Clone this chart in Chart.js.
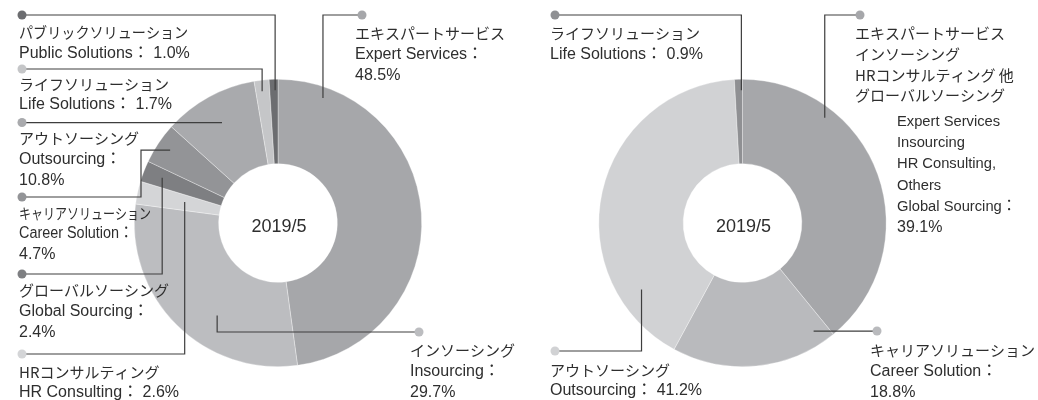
<!DOCTYPE html>
<html>
<head>
<meta charset="utf-8">
<script src="https://cdn.jsdelivr.net/npm/chart.js@4.4.0/dist/chart.umd.min.js"></script>
<style>
  html, body { margin: 0; padding: 0; background: #fff; }
  #wrap { position: relative; width: 1038px; height: 400px; }
  .layer { position: absolute; left: 0; top: 0; width: 1038px; height: 400px; }
</style>
</head>
<body>
<div id="wrap">
  <div class="layer"><canvas id="leftChart"></canvas></div>
  <div class="layer"><canvas id="rightChart"></canvas></div>
</div>
<script>
// ---- data ----
const centerLabel = '2019/5';

const leftJa = ['エキスパートサービス', 'インソーシング', 'HRコンサルティング', 'グローバルソーシング',
  'キャリアソリューション', 'アウトソーシング', 'ライフソリューション', 'パブリックソリューション'];
const leftEn = ['Expert Services', 'Insourcing', 'HR Consulting', 'Global Sourcing',
  'Career Solution', 'Outsourcing', 'Life Solutions', 'Public Solutions'];
const leftValues = [48.5, 29.7, 2.6, 2.4, 4.7, 10.8, 1.7, 1.0];
const leftColors = ['#a6a7aa', '#bcbdc0', '#d4d5d7', '#7e7f82', '#939497', '#a9aaad', '#c5c6c8', '#6c6d70'];

const rightJa = ['エキスパートサービス\nインソーシング\nHRコンサルティング 他\nグローバルソーシング',
  'キャリアソリューション', 'アウトソーシング', 'ライフソリューション'];
const rightEn = ['Expert Services\nInsourcing\nHR Consulting,\nOthers\nGlobal Sourcing',
  'Career Solution', 'Outsourcing', 'Life Solutions'];
const rightValues = [39.1, 18.8, 41.2, 0.9];
const rightColors = ['#a6a7aa', '#b9babd', '#d1d2d4', '#8f9093'];

// ---- layout (page px) ----
const R_OUT = 144;
const CUTOUT = '41.3%';
const leftCenter = [278, 223];
const rightCenter = [742.5, 223];

// leader line anchors: t = position along the slice, f = depth between inner/outer radius
const leftCallouts = [
  { t: .115, f: .87, dot: [362, 15], x: 355, jaY: [33], enY: [55], pctY: 76 },
  { t: .39, f: .61, dot: [419, 332], x: 410, jaY: [350], enY: [372], pctY: 393 },
  { t: .54, f: .43, dot: [22, 354], x: 19, jaY: [372], enY: [393] },
  { t: .52, f: .77, dot: [22, 274], x: 19, jaY: [290], enY: [312], pctY: 333 },
  { t: .52, f: .84, dot: [22, 197], x: 19, jaY: [213], enY: [234], pctY: 255, elbowX: 141, jaScale: .8, enScale: .9 },
  { t: .49, f: .66, dot: [22, 122], x: 19, jaY: [138], enY: [160], pctY: 181, flat: true },
  { t: .45, f: .87, dot: [22, 69], x: 19, jaY: [84], enY: [105] },
  { t: .65, f: .87, dot: [22, 15], x: 19, jaY: [32], enY: [54], jaScale: .94 },
];
const rightCallouts = [
  { t: .27, f: .88, dot: [860, 15], x: 855, jaY: [33, 54, 75, 95], enX: 897, enY: [122, 143, 164, 186, 207],
    enSize: 15.5, enScale: .95, pctY: 228 },
  { t: .087, f: .83, dot: [877, 331], x: 870, jaY: [350], enY: [372], pctY: 393, flat: true },
  { t: .19, f: .73, dot: [555, 351], x: 550, jaY: [370], enY: [391] },
  { t: .85, f: .87, dot: [555, 15], x: 550, jaY: [33], enY: [55] },
];

const TEXT_COLOR = '#2e2e2e';
const LINE_COLOR = '#3e3e3e';
const JA_FONT = '"Noto Sans CJK JP", sans-serif';
const EN_FONT = '"Liberation Sans", "Noto Sans CJK JP", sans-serif';

function putText(ctx, txt, x, y, size, family, scale) {
  ctx.save();
  ctx.font = size + 'px ' + family;
  ctx.translate(x, y);
  ctx.scale(scale || 1, 1);
  ctx.fillText(txt, 0, 0);
  ctx.restore();
}

function calloutPlugin(items, jaLabels, enLabels) {
  return {
    id: 'callouts',
    afterDraw(chart) {
      const ctx = chart.ctx;
      const meta = chart.getDatasetMeta(0);
      const ds = chart.data.datasets[0];
      ctx.save();
      items.forEach((c, i) => {
        const p = meta.data[i].getProps(['x', 'y', 'startAngle', 'endAngle', 'innerRadius', 'outerRadius'], true);
        const a = p.startAngle + c.t * (p.endAngle - p.startAngle);
        const r = p.innerRadius + c.f * (p.outerRadius - p.innerRadius);
        const ex = p.x + Math.cos(a) * r;
        const ey = p.y + Math.sin(a) * r;
        const dx = c.dot[0];
        const dy = c.flat ? ey : c.dot[1];

        ctx.strokeStyle = LINE_COLOR;
        ctx.lineWidth = 1.2;
        ctx.beginPath();
        ctx.moveTo(dx, dy);
        if (c.elbowX != null) {
          ctx.lineTo(c.elbowX, dy);
          ctx.lineTo(c.elbowX, ey);
          ctx.lineTo(ex, ey);
        } else {
          ctx.lineTo(ex, dy);
          ctx.lineTo(ex, ey);
        }
        ctx.stroke();

        ctx.fillStyle = ds.backgroundColor[i];
        ctx.beginPath();
        ctx.arc(dx, dy, 4.5, 0, Math.PI * 2);
        ctx.fill();

        // texts
        ctx.fillStyle = TEXT_COLOR;
        ctx.textAlign = 'left';
        ctx.textBaseline = 'middle';
        const ja = jaLabels[i].split('\n');
        const en = enLabels[i].split('\n');
        const pct = ds.data[i].toFixed(1) + '%';
        ja.forEach((s, k) => putText(ctx, s, c.x, c.jaY[k], 15, JA_FONT, c.jaScale));
        const enX = c.enX != null ? c.enX : c.x;
        en.forEach((s, k) => {
          let txt = s;
          if (k === en.length - 1) txt += '：' + (c.pctY == null ? ' ' + pct : '');
          putText(ctx, txt, enX, c.enY[k], c.enSize || 16, EN_FONT, c.enScale);
        });
        if (c.pctY != null) putText(ctx, pct, enX, c.pctY, 16, EN_FONT, 1);
      });

      // center label
      ctx.fillStyle = TEXT_COLOR;
      ctx.textAlign = 'center';
      ctx.textBaseline = 'middle';
      ctx.font = '18px ' + EN_FONT;
      const m = meta.data[0];
      ctx.fillText(centerLabel, m.x + 1, m.y + 4);
      ctx.restore();
    }
  };
}

function makeDonut(canvasId, values, colors, ja, en, center, callouts) {
  const pad = {
    left: center[0] - R_OUT,
    right: 1038 - center[0] - R_OUT,
    top: center[1] - R_OUT,
    bottom: 400 - center[1] - R_OUT,
  };
  return new Chart(document.getElementById(canvasId).getContext('2d'), {
    type: 'doughnut',
    data: {
      labels: en,
      datasets: [{
        data: values,
        backgroundColor: colors,
        borderColor: 'rgba(255,255,255,0.55)',
        borderWidth: 0.6,
        hoverOffset: 0,
      }]
    },
    options: {
      responsive: true,
      maintainAspectRatio: false,
      animation: false,
      cutout: CUTOUT,
      layout: { padding: pad },
      events: [],
      plugins: {
        legend: { display: false },
        tooltip: { enabled: false },
      }
    },
    plugins: [calloutPlugin(callouts, ja, en)]
  });
}

makeDonut('leftChart', leftValues, leftColors, leftJa, leftEn, leftCenter, leftCallouts);
makeDonut('rightChart', rightValues, rightColors, rightJa, rightEn, rightCenter, rightCallouts);
</script>
</body>
</html>
